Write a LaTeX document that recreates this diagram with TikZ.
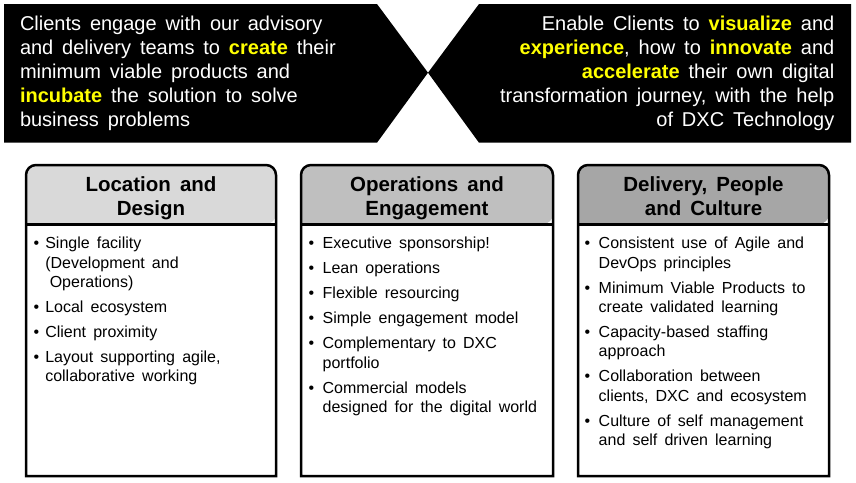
\documentclass[tikz,border=0pt]{standalone}
\usepackage{fontspec}
\setmainfont{Liberation Sans}[WordSpace=1.6]
\definecolor{hi}{HTML}{FFFF00}
\definecolor{hdrA}{HTML}{D9D9D9}
\definecolor{hdrB}{HTML}{BFBFBF}
\definecolor{hdrC}{HTML}{A6A6A6}
\newcommand\hl[1]{\textcolor{hi}{\textbf{#1}}}
\newcommand\topfont{\fontsize{20}{24}\selectfont}
\newcommand\hdrfont{\fontsize{20.5}{23.3}\selectfont\bfseries}
\newcommand\bodyfont{\fontsize{16}{19.4}\selectfont}
\newlength\bhang
\newcommand\bi[1]{\par\hangindent=\bhang\hangafter=1\noindent\makebox[\bhang][l]{\textbullet}#1\par}
\newcommand\bodylist[2]{\begin{minipage}[t]{250pt}\bodyfont\raggedright\setlength\parskip{5.6pt}\setlength\bhang{#1}#2\end{minipage}}
\newcommand\hdrtext[1]{\begin{minipage}[t]{240pt}\centering\hdrfont #1\end{minipage}}
\tikzset{
  banner/.style={fill=black},
  boxline/.style={draw=black, line width=2.5pt},
  hdrline/.style={draw=black, line width=3pt},
  txt/.style={inner sep=0pt, outer sep=0pt},
}
\newcommand\colbox[3]{% left, right, fill
  \fill[white] (#1,165) rectangle (#2,476);
  \fill[#3] (#1,224) [rounded corners=10pt] -- (#1,165) -- (#2,165) -- (#2,224) [sharp corners] -- cycle;
  \draw[hdrline] (#1,224) -- (#2,224);
  \draw[boxline] (#1,300) [rounded corners=10pt] -- (#1,165) -- (#2,165) -- (#2,300) [sharp corners] -- (#2,476) -- (#1,476) -- cycle;
}
\begin{document}
\begin{tikzpicture}[x=1pt,y=-1pt]
\useasboundingbox (0,0) rectangle (856,482);
% banner
\fill[banner] (4,4) -- (377,4) -- (428,72.7) -- (377,142.7) -- (4,142.7) -- cycle;
\fill[banner] (479,4) -- (851,4) -- (851,142.7) -- (479,142.7) -- (428,72.7) -- cycle;
\node[txt, anchor=base west, text=white] (tl) at (20,30.7) {\begin{minipage}[t]{400pt}\topfont\raggedright
Clients engage with our advisory\\
and delivery teams to \hl{create} their\\
minimum viable products and\\
\hl{incubate} the solution to solve\\
business problems\end{minipage}};
\node[txt, anchor=base east, text=white] (tr) at (834.3,30.7) {\begin{minipage}[t]{400pt}\topfont\raggedleft
Enable Clients to \hl{visualize} and\\
\hl{experience}, how to \hl{innovate} and\\
\hl{accelerate} their own digital\\
transformation journey, with the help\\
of DXC Technology\end{minipage}};
% columns
\colbox{26}{276}{hdrA}
\colbox{301}{553}{hdrB}
\colbox{578}{829}{hdrC}
\node[txt, anchor=base] (h1) at (151,191.7) {\hdrtext{Location and\\Design}};
\node[txt, anchor=base] (h2) at (427,191.7) {\hdrtext{Operations and\\Engagement}};
\node[txt, anchor=base] (h3) at (703.5,191.7) {\hdrtext{Delivery, People\\and Culture}};
\node[txt, anchor=base west] (b1) at (33.5,248.7) {\bodylist{11.8pt}{%
\bi{Single facility\newline(Development and\newline\hspace*{4.5pt}Operations)}
\bi{Local ecosystem}
\bi{Client proximity}
\bi{Layout supporting agile,\newline collaborative working}}};
\node[txt, anchor=base west] (b2) at (308.5,248.7) {\bodylist{14.2pt}{%
\bi{Executive sponsorship!}
\bi{Lean operations}
\bi{Flexible resourcing}
\bi{Simple engagement model}
\bi{Complementary to DXC\newline portfolio}
\bi{Commercial models\newline designed for the digital world}}};
\node[txt, anchor=base west] (b3) at (584.5,248.7) {\bodylist{14.2pt}{%
\bi{Consistent use of Agile and\newline DevOps principles}
\bi{Minimum Viable Products to\newline create validated learning}
\bi{Capacity-based staffing\newline approach}
\bi{Collaboration between\newline clients, DXC and ecosystem}
\bi{Culture of self management\newline and self driven learning}}};
\end{tikzpicture}
\end{document}
